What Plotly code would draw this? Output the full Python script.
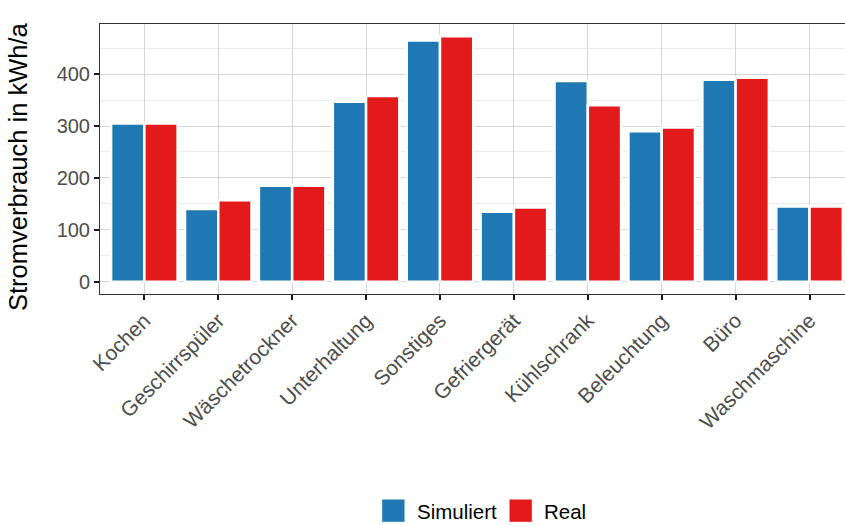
import plotly.graph_objects as go

categories = ["Kochen", "Geschirrspüler", "Wäschetrockner", "Unterhaltung", "Sonstiges",
              "Gefriergerät", "Kühlschrank", "Beleuchtung", "Büro", "Waschmaschine"]
simuliert = [305, 140, 185, 347, 465, 135, 387, 290, 389, 145]
real = [305, 157, 185, 358, 473, 143, 340, 297, 393, 145]
y_ticks = [0, 100, 200, 300, 400]
series_names = ["Simuliert", "Real"]
colors = ["#1F78B4", "#E31A1C"]

W, H = 845, 525
L, T, B = 100, 24, 294
pw, ph = W - L, B - T

def px(x):
    return (x - L) / pw

def py(y):
    return (B - y) / ph

fig = go.Figure()
for name, vals, col in zip(series_names, [simuliert, real], colors):
    fig.add_trace(go.Bar(x=categories, y=vals, name=name, marker_color=col,
                         marker_line=dict(color="white", width=2.5), showlegend=False))

ymax = max(max(simuliert), max(real))
font = "Liberation Sans, Arial, sans-serif"

fig.update_layout(
    width=W, height=H,
    margin=dict(l=L, r=0, t=T, b=H - B),
    plot_bgcolor="white", paper_bgcolor="white",
    barmode="group", bargap=0.1, bargroupgap=0,
    font=dict(family=font, size=20, color="#4D4D4D"),
    xaxis=dict(range=[-0.6, 9.48], tickangle=-45, showline=True, linecolor="#333333",
               linewidth=1, mirror=True, ticks="outside", ticklen=5, tickwidth=2,
               tickcolor="#1a1a1a", showgrid=True, gridcolor="#D6D6D6", gridwidth=1,
               tickfont=dict(size=21, color="#4D4D4D")),
    yaxis=dict(range=[-0.05 * ymax, 1.05 * ymax], tickvals=y_ticks, showline=True,
               linecolor="#333333", linewidth=1, ticks="outside", ticklen=5, tickwidth=2,
               tickcolor="#1a1a1a", showgrid=True, gridcolor="#D6D6D6", gridwidth=1,
               zeroline=False, tickfont=dict(size=20, color="#4D4D4D"),
               minor=dict(dtick=50, tick0=50, showgrid=True, gridcolor="#EBEBEB", gridwidth=1)),
)

# y-axis title
fig.add_annotation(text="Stromverbrauch in kWh/a", xref="paper", yref="paper",
                   x=px(18), y=py(167), textangle=-90, showarrow=False,
                   font=dict(size=25.5, color="black", family=font),
                   xanchor="center", yanchor="middle")

# legend (manual, bottom centre)
legend_items = [(381.7, 405.0, 415.0), (509.0, 532.3, 541.7)]
for (x0, x1, tx), name, col in zip(legend_items, series_names, colors):
    fig.add_shape(type="rect", xref="paper", yref="paper",
                  x0=px(x0), x1=px(x1), y0=py(522.3), y1=py(499),
                  fillcolor=col, line=dict(color="white", width=1))
    fig.add_annotation(text=name, xref="paper", yref="paper", x=px(tx), y=py(511.5),
                       xanchor="left", yanchor="middle", showarrow=False,
                       font=dict(size=20.5, color="black", family=font))

fig.write_html("out.html", config={"displayModeBar": False},
               post_script="document.body.style.margin='0';document.body.style.overflow='hidden';")
